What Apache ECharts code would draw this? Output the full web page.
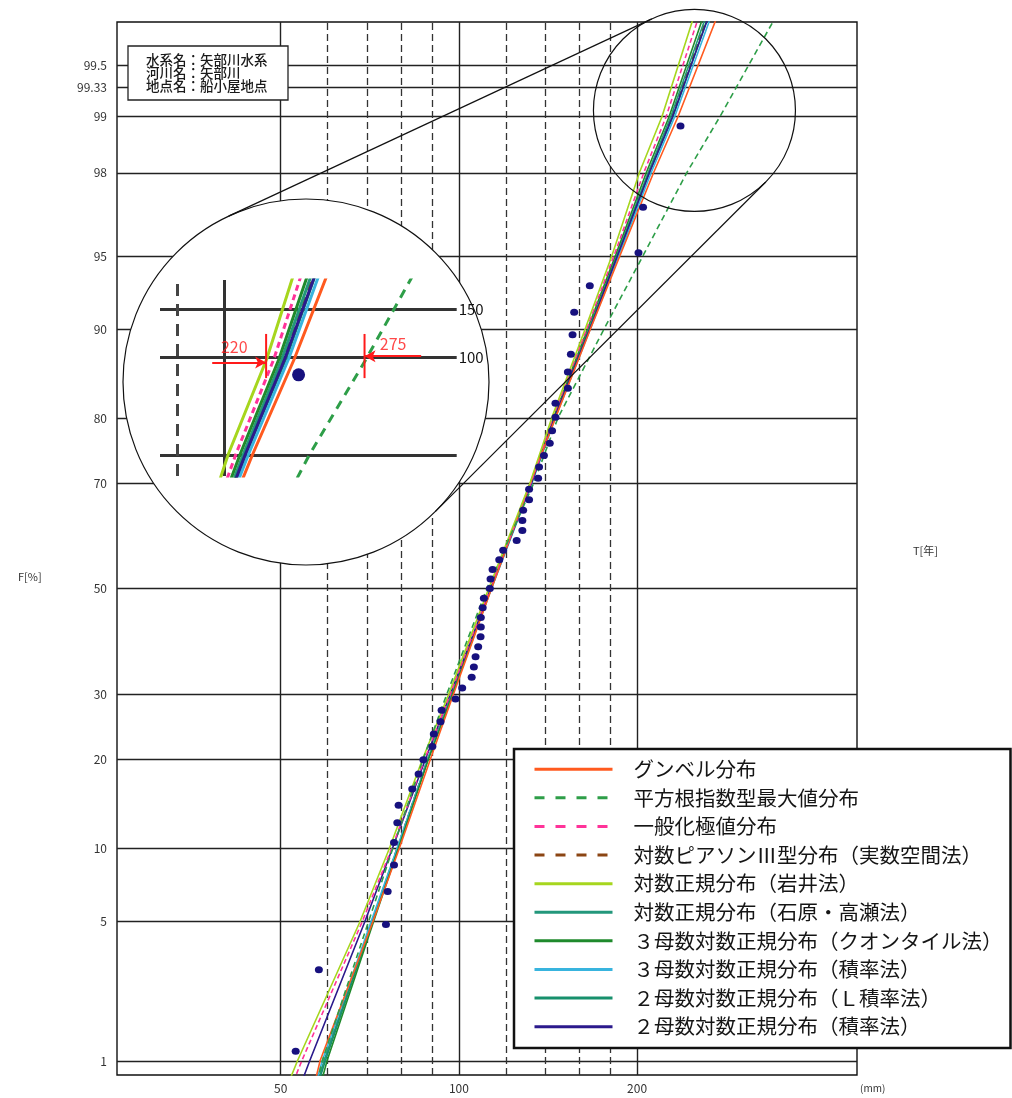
<!DOCTYPE html>
<html><head><meta charset="utf-8">
<script src="https://cdn.jsdelivr.net/npm/echarts@6/dist/echarts.min.js"></script>
<style>html,body{margin:0;padding:0;background:#fff}#c{width:1012px;height:1098px}</style>
</head><body><div id="c"></div>
<script>
// ---------------- DATA ----------------
// non-exceedance probability levels (%) at which each fitted curve was read
const probLevels = [0.5, 1, 5, 10, 20, 30, 50, 70, 80, 90, 95, 98, 99, 99.8];
// fitted curves: rainfall (mm) at each probability level
const gumbel      = [55.6, 58.3, 71.5, 79.3, 89.5, 97.8, 113.5, 132.3, 145.6, 166.9, 187.3, 213.5, 234.5, 278.0];
const sqrtExp     = [56.0, 58.8, 70.3, 77.3, 87.0, 95.3, 111.5, 134.0, 147.0, 176.0, 205.0, 243.0, 276.0, 352.0];
const gev         = [50.2, 54.3, 68.6, 77.0, 87.5, 96.6, 112.8, 132.5, 144.0, 164.5, 183.0, 205.5, 223.9, 258.0];
const logPearson3 = [55.7, 59.0, 71.2, 78.6, 88.5, 97.2, 113.2, 132.5, 145.0, 166.0, 185.3, 209.5, 229.0, 267.0];
const lnIwai      = [49.3, 53.4, 68.0, 76.3, 86.8, 96.0, 112.3, 132.0, 143.5, 163.5, 181.5, 202.0, 220.3, 253.0];
const lnIshihara  = [55.9, 59.2, 71.3, 78.7, 88.6, 97.3, 113.3, 132.5, 145.0, 166.0, 185.0, 209.0, 228.0, 265.6];
const ln3Quantile = [56.8, 59.9, 71.7, 79.0, 88.8, 97.4, 113.2, 132.2, 144.5, 165.0, 184.0, 207.5, 226.5, 262.8];
const ln3Moment   = [55.6, 58.8, 71.0, 78.6, 88.6, 97.4, 113.5, 133.0, 145.5, 166.8, 186.5, 211.5, 231.5, 271.0];
const ln2LMoment  = [56.0, 59.5, 71.4, 78.8, 88.7, 97.4, 113.4, 132.7, 145.2, 166.3, 185.6, 210.0, 230.0, 268.0];
const ln2Moment   = [52.0, 56.0, 69.3, 77.2, 87.8, 96.6, 113.2, 132.8, 145.0, 166.5, 185.5, 210.0, 229.5, 268.5];
// observed annual maxima: plotting position (%) and rainfall (mm)
const dotF = [1.128, 3.008, 4.887, 6.767, 8.647, 10.526, 12.406, 14.286, 16.165, 18.045, 19.925, 21.805, 23.684, 25.564, 27.444, 29.323, 31.203, 33.083, 34.962, 36.842, 38.722, 40.602, 42.481, 44.361, 46.241, 48.120, 50.000, 51.880, 53.759, 55.639, 57.519, 59.398, 61.278, 63.158, 65.038, 66.917, 68.797, 70.677, 72.556, 74.436, 76.316, 78.195, 80.075, 81.955, 83.835, 85.714, 87.594, 89.474, 91.353, 93.233, 95.113, 96.992, 98.872];
const dotX = [53.0, 58.0, 75.3, 75.8, 77.7, 77.7, 78.7, 79.1, 83.4, 85.5, 87.1, 90.2, 90.7, 93.1, 93.5, 98.7, 101.3, 105.1, 106.0, 106.7, 107.8, 108.8, 108.9, 108.9, 109.7, 110.2, 112.8, 113.1, 114.0, 117.0, 118.8, 125.2, 128.0, 128.0, 128.4, 131.4, 131.4, 136.1, 136.6, 139.2, 142.4, 143.7, 145.6, 145.6, 152.8, 152.8, 154.6, 155.6, 156.6, 166.4, 201.1, 204.7, 236.8];
// axis ticks
const fTicks  = [1, 5, 10, 20, 30, 50, 70, 80, 90, 95, 98, 99, 99.33, 99.5];
const fLabels = ['1', '5', '10', '20', '30', '50', '70', '80', '90', '95', '98', '99', '99.33', '99.5'];
const tLabels = ['', '', '', '', '', '', '', '5', '10', '20', '50', '100', '150', '200'];
const xMajor = [50, 100, 200];
const xMajorLabels = ['50', '100', '200'];
const xMinor = [60, 70, 80, 90, 120, 140, 160, 180];
// magnified region
const insetF = [98, 99, 99.33];
const insetLabels = ['', '100', '150'];
const insetXMajor = [200];
const insetXMinor = [180];
const markValues = [220, 275];
const markLabels = ['220', '275'];
const magCenter = [250, 99.08];
const infoLines = ['水系名：矢部川水系', '河川名：矢部川', '地点名：船小屋地点'];

const distNames = ['グンベル分布', '平方根指数型最大値分布', '一般化極値分布', '対数ピアソンⅢ型分布（実数空間法）', '対数正規分布（岩井法）', '対数正規分布（石原・高瀬法）', '３母数対数正規分布（クオンタイル法）', '３母数対数正規分布（積率法）', '２母数対数正規分布（Ｌ積率法）', '２母数対数正規分布（積率法）'];

// ---------------- SCALE (normal probability paper) ----------------
function normInv(p){
  const a=[-3.969683028665376e+01,2.209460984245205e+02,-2.759285104469687e+02,1.383577518672690e+02,-3.066479806614716e+01,2.506628277459239e+00];
  const b=[-5.447609879822406e+01,1.615858368580409e+02,-1.556989798598866e+02,6.680131188771972e+01,-1.328068155288572e+01];
  const c=[-7.784894002430293e-03,-3.223964580411365e-01,-2.400758277161838e+00,-2.549732539343734e+00,4.374664141464968e+00,2.938163982698783e+00];
  const d=[7.784695709041462e-03,3.224671290700398e-01,2.445134137142996e+00,3.754408661907416e+00];
  const pl=0.02425, ph=1-pl; let q,r;
  if(p<pl){q=Math.sqrt(-2*Math.log(p));return (((((c[0]*q+c[1])*q+c[2])*q+c[3])*q+c[4])*q+c[5])/((((d[0]*q+d[1])*q+d[2])*q+d[3])*q+1);}
  if(p<=ph){q=p-0.5;r=q*q;return (((((a[0]*r+a[1])*r+a[2])*r+a[3])*r+a[4])*r+a[5])*q/(((((b[0]*r+b[1])*r+b[2])*r+b[3])*r+b[4])*r+1);}
  q=Math.sqrt(-2*Math.log(1-p));return -(((((c[0]*q+c[1])*q+c[2])*q+c[3])*q+c[4])*q+c[5])/((((d[0]*q+d[1])*q+d[2])*q+d[3])*q+1);
}
const Z = f => normInv(f/100);

// ---------------- STYLES ----------------
const FONT = '"Noto Sans CJK JP", "Noto Sans", sans-serif';
const DOT = '#17117e';
const dists = [
  {name: distNames[3], data: logPearson3, color: '#8b4513', dash: [6,4], ldash: [10,11], idash: [9,7]},
  {name: distNames[5], data: lnIshihara, color: '#23977b'},
  {name: distNames[8], data: ln2LMoment, color: '#17906c'},
  {name: distNames[7], data: ln3Moment, color: '#38b4de'},
  {name: distNames[6], data: ln3Quantile, color: '#1f8a2c'},
  {name: distNames[9], data: ln2Moment, color: '#2b1a8c'},
  {name: distNames[0], data: gumbel, color: '#ff5a1f'},
  {name: distNames[2], data: gev, color: '#ff3399', dash: [5,3], ldash: [10,11], idash: [6,4]},
  {name: distNames[4], data: lnIwai, color: '#a6d61e'},
  {name: distNames[1], data: sqrtExp, color: '#2e9e48', dash: [6,4], ldash: [10,11], idash: [9,7]}
];
const pts = arr => probLevels.map((p, i) => [arr[i], Z(p)]);

const series = [];
// main grid lines + left / bottom labels
series.push({
  type: 'line', name: 'grid', xAxisIndex: 0, yAxisIndex: 0, data: [[100, 0]], symbol: 'none',
  lineStyle: {opacity: 0}, silent: true, z: 1,
  markLine: {
    silent: true, z: 1, symbol: ['none', 'none'], animation: false,
    data: [].concat(
      fTicks.map((f, i) => ({yAxis: Z(f), lineStyle: {color: '#222', width: 1.4, type: 'solid'},
        label: {show: true, position: 'start', distance: 10, formatter: fLabels[i], color: '#333', fontSize: 12, fontFamily: FONT}})),
      xMajor.map((v, i) => ({xAxis: v, lineStyle: {color: '#222', width: 1.4, type: 'solid'},
        label: {show: true, position: 'start', distance: 7, formatter: xMajorLabels[i], color: '#333', fontSize: 12, fontFamily: FONT}})),
      xMinor.map(v => ({xAxis: v, lineStyle: {color: '#333', width: 1.3, type: [7, 4]}, label: {show: false}}))
    )
  }
});
// right T labels
series.push({
  type: 'line', name: 'tgrid', xAxisIndex: 0, yAxisIndex: 0, data: [[100, 0]], symbol: 'none',
  lineStyle: {opacity: 0}, silent: true, z: 1,
  markLine: {
    silent: true, z: 1, symbol: ['none', 'none'], animation: false,
    data: fTicks.map((f, i) => ({f, i})).filter(o => tLabels[o.i] !== '').map(o => ({yAxis: Z(o.f),
      lineStyle: {opacity: 0},
      label: {show: true, position: 'end', distance: 13, formatter: tLabels[o.i], color: '#333', fontSize: 12, fontFamily: FONT}}))
  }
});
// fitted curves (main)
dists.forEach(d => series.push({
  type: 'line', name: d.name, xAxisIndex: 0, yAxisIndex: 0, data: pts(d.data), symbol: 'none', z: 2,
  lineStyle: {color: d.color, width: 1.6, type: d.dash || 'solid'}, itemStyle: {color: d.color}, clip: true
}));
// observed points (main)
series.push({
  type: 'scatter', name: 'obs', xAxisIndex: 0, yAxisIndex: 0, z: 3, symbolSize: [8, 7],
  itemStyle: {color: DOT, opacity: 1}, data: dotX.map((x, i) => [x, Z(dotF[i])]), clip: true
});
// ---------- inset ----------
series.push({
  type: 'line', name: 'igrid', xAxisIndex: 1, yAxisIndex: 1, data: [[250, 2.3]], symbol: 'none',
  lineStyle: {opacity: 0}, silent: true, z: 60,
  markLine: {
    silent: true, z: 60, symbol: ['none', 'none'], animation: false,
    data: [].concat(
      insetF.map((f, i) => ({yAxis: Z(f), lineStyle: {color: '#333', width: 3, type: 'solid'},
        label: {show: insetLabels[i] !== '', position: 'end', distance: 2, formatter: insetLabels[i], color: '#111', fontSize: 15, fontFamily: FONT}})),
      insetXMajor.map(v => ({xAxis: v, lineStyle: {color: '#333', width: 3, type: 'solid'}, label: {show: false}})),
      insetXMinor.map(v => ({xAxis: v, lineStyle: {color: '#444', width: 3, type: [12, 8]}, label: {show: false}}))
    )
  }
});
dists.forEach(d => series.push({
  type: 'line', name: d.name + ' (inset)', xAxisIndex: 1, yAxisIndex: 1, data: pts(d.data), symbol: 'none', z: 61,
  lineStyle: {color: d.color, width: 3, type: d.idash || 'solid'}, clip: true, silent: true
}));
series.push({
  type: 'scatter', name: 'obs (inset)', xAxisIndex: 1, yAxisIndex: 1, z: 62, symbolSize: 13,
  itemStyle: {color: DOT, opacity: 1}, data: dotX.map((x, i) => [x, Z(dotF[i])]), clip: true, silent: true
});
// red read-off markers
const z99 = Z(99);
markValues.forEach((v, k) => {
  series.push({
    type: 'line', name: 'mark' + k, xAxisIndex: 1, yAxisIndex: 1, z: 70, symbol: 'none', silent: true,
    data: [[v, z99 - 0.055], [v, z99 + 0.072]], lineStyle: {color: '#ff1a1a', width: 2}
  });
});
series.push({
  type: 'scatter', name: 'marklabels', xAxisIndex: 1, yAxisIndex: 1, z: 71, symbolSize: 1, silent: true,
  itemStyle: {color: 'rgba(0,0,0,0)'},
  data: [[markValues[0] / 1.075, z99 + 0.035], [markValues[1] * 1.067, z99 + 0.043]],
  label: {show: true, position: 'inside', formatter: p => markLabels[p.dataIndex], color: '#ff1a1a', fontSize: 16, fontFamily: FONT},
  markLine: {
    silent: true, z: 71, symbol: ['none', 'arrow'], symbolSize: [9, 11], animation: false,
    lineStyle: {color: '#ff1a1a', width: 2, type: 'solid'}, label: {show: false},
    data: [
      [{coord: [markValues[0] / 1.13, z99 - 0.01]}, {coord: [markValues[0], z99 - 0.01]}],
      [{coord: [markValues[1] * 1.137, z99 + 0.008]}, {coord: [markValues[1], z99 + 0.008]}]
    ]
  }
});

const legendData = [0,1,2,3,4,5,6,7,8,9].map(i => {
  const d = dists.find(o => o.name === distNames[i]);
  const item = {name: distNames[i]};
  if (d.ldash) item.lineStyle = {type: d.ldash};
  return item;
});

const chart = echarts.init(document.getElementById('c'), null, {renderer: 'canvas'});
chart.setOption({
  animation: false,
  backgroundColor: '#fff',
  textStyle: {fontFamily: FONT},
  grid: [
    {left: 117, top: 22, width: 740, height: 1053, show: true, borderColor: '#111', borderWidth: 1.4, backgroundColor: 'transparent'},
    {left: 160, top: 280, width: 296.7, height: 196, show: false}
  ],
  xAxis: [
    {type: 'log', gridIndex: 0, min: 26.45, max: 470.5, axisLine: {show: false}, axisTick: {show: false}, axisLabel: {show: false}, splitLine: {show: false}},
    {type: 'log', gridIndex: 1, min: 172.96, max: 338.9, axisLine: {show: false}, axisTick: {show: false}, axisLabel: {show: false}, splitLine: {show: false}}
  ],
  yAxis: [
    {type: 'value', gridIndex: 0, min: -2.398, max: 2.7935, axisLine: {show: false}, axisTick: {show: false}, axisLabel: {show: false}, splitLine: {show: false}},
    {type: 'value', gridIndex: 1, min: 1.9898, max: 2.5535, axisLine: {show: false}, axisTick: {show: false}, axisLabel: {show: false}, splitLine: {show: false}}
  ],
  legend: {
    orient: 'vertical', left: 514, top: 749, padding: [10, 8, 11, 19],
    itemWidth: 78, itemHeight: 20, itemGap: 8.1,
    backgroundColor: '#fff', borderColor: '#111', borderWidth: 2.5,
    selectedMode: false,
    itemStyle: {opacity: 0},
    lineStyle: {width: 3},
    textStyle: {fontSize: 20.5, color: '#151515', fontFamily: FONT, padding: [0, 0, 0, 16]},
    data: legendData
  },
  series: series
});

// ---------- annotations: magnifier circles, info box, axis titles ----------
const small = chart.convertToPixel({xAxisIndex: 0, yAxisIndex: 0}, [magCenter[0], Z(magCenter[1])]);
const r2 = 101;
const C1 = [306, 382], r1 = 183;
function tangents(c1, ra, c2, rb){
  const dx = c2[0]-c1[0], dy = c2[1]-c1[1], D = Math.hypot(dx, dy);
  const base = Math.atan2(dy, dx), t = Math.acos((ra - rb) / D);
  return [base - t, base + t].map(a => {
    const n = [Math.cos(a), Math.sin(a)];
    return [c1[0] + ra*n[0], c1[1] + ra*n[1], c2[0] + rb*n[0], c2[1] + rb*n[1]];
  });
}
const tl = tangents(C1, r1, small, r2);
const graphic = [
  {type: 'rect', z: 10, shape: {x: 128, y: 46, width: 160, height: 54}, style: {fill: '#fff', stroke: '#222', lineWidth: 1.3}},
  {type: 'text', z: 11, left: 146, top: 53, style: {text: infoLines.join('\n'), fontSize: 13.5, lineHeight: 13.3, fill: '#1a1a1a', fontFamily: FONT, fontWeight: 500}},
  {type: 'text', z: 11, left: 18, top: 571, style: {text: 'F[%]', fontSize: 11, fill: '#333', fontFamily: FONT}},
  {type: 'text', z: 11, left: 913, top: 545, style: {text: 'T[年]', fontSize: 11, fill: '#333', fontFamily: FONT}},
  {type: 'text', z: 11, left: 860, top: 1083, style: {text: '(mm)', fontSize: 10, fill: '#333', fontFamily: FONT}},
  {type: 'circle', z: 50, silent: true, shape: {cx: C1[0], cy: C1[1], r: r1}, style: {fill: '#fff', stroke: '#111', lineWidth: 1.2}},
  {type: 'circle', z: 50, silent: true, shape: {cx: small[0], cy: small[1], r: r2}, style: {fill: null, stroke: '#111', lineWidth: 1.2}}
].concat(tl.map(s => ({type: 'line', z: 50, silent: true, shape: {x1: s[0], y1: s[1], x2: s[2], y2: s[3]}, style: {stroke: '#111', lineWidth: 1.2}})));
chart.setOption({graphic: graphic});
</script>
</body></html>
